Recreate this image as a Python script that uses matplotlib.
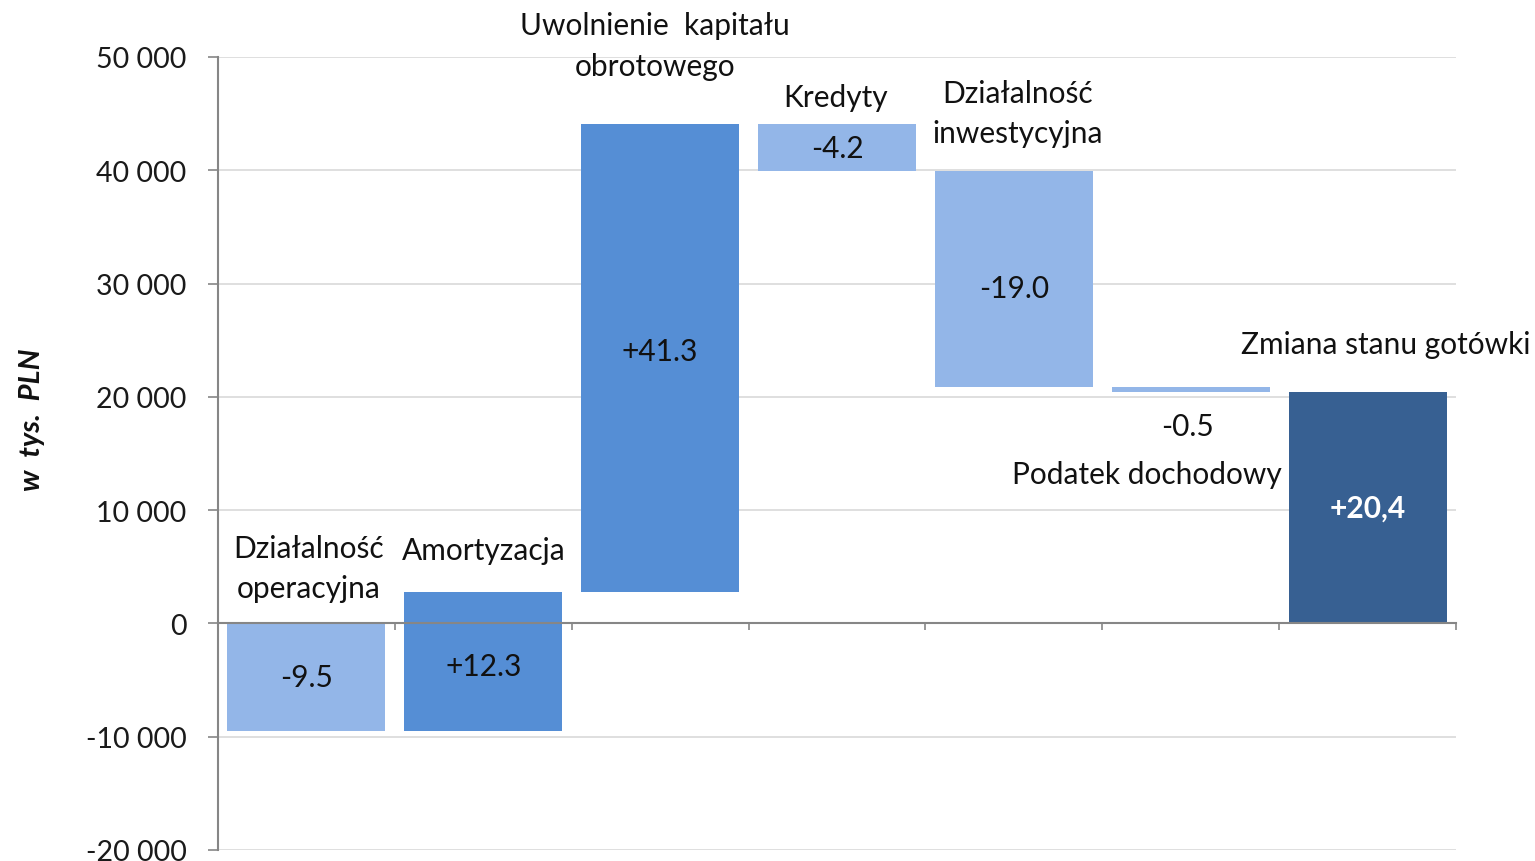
import matplotlib
matplotlib.use("Agg")
import matplotlib.pyplot as plt
from matplotlib.ticker import FuncFormatter, FixedLocator
import numpy as np

categories = ["Działalność\noperacyjna", "Amortyzacja", "Uwolnienie  kapitału\nobrotowego",
              "Kredyty", "Działalność\ninwestycyjna", "Podatek dochodowy", "Zmiana stanu gotówki"]
changes = [-9500, 12300, 41300, -4200, -19000, -500, 20400]
value_labels = ["-9.5", "+12.3", "+41.3", "-4.2", "-19.0", "-0.5", "+20,4"]
is_total = [False, False, False, False, False, False, True]
yticks = [-20000, -10000, 0, 10000, 20000, 30000, 40000, 50000]

LIGHT = "#93B6E8"
MID = "#558ED5"
DARK = "#376092"

plt.rcParams['font.family'] = ['Lato', 'DejaVu Sans']

fig = plt.figure(figsize=(15.35, 8.62), dpi=100)
ax = fig.add_axes([218/1535, 1-851/862, (1456-218)/1535, (851-58)/862])

# waterfall computation
bottoms, heights, colors = [], [], []
cum = 0
for ch, tot in zip(changes, is_total):
    if tot:
        bottoms.append(0); heights.append(ch); colors.append(DARK)
    else:
        bottoms.append(cum); heights.append(ch)
        colors.append(MID if ch > 0 else LIGHT)
        cum += ch
x = np.arange(len(changes))
ax.bar(x, heights, bottom=bottoms, width=0.893, color=colors, zorder=3)

ax.set_xlim(-0.5, len(changes) - 0.5)
ax.set_ylim(-20000, 50000)
ax.yaxis.set_major_locator(FixedLocator(yticks))
ax.yaxis.set_major_formatter(FuncFormatter(lambda v, p: f"{int(v):,}".replace(",", " ")))
ax.grid(axis='y', color='#D9D9D9', linewidth=1.2, zorder=0)
ax.tick_params(axis='y', length=7.5, width=1.2, color='#868686', pad=15, labelsize=20.5, labelcolor='#1a1a1a')

for s in ['top', 'right']:
    ax.spines[s].set_visible(False)
ax.spines['left'].set_color('#868686')
ax.spines['left'].set_linewidth(1.5)
ax.spines['bottom'].set_position(('data', 0))
ax.spines['bottom'].set_color('#868686')
ax.spines['bottom'].set_linewidth(1.5)
ax.spines['bottom'].set_zorder(4)
ax.set_xticks(np.arange(0.5, len(changes), 1.0))
ax.set_xticklabels([])
ax.tick_params(axis='x', length=5, width=1.2, color='#868686', direction='out')

fs = 21.5
# value label vertical nudges (layout, in data units)
val_dy = [0, -450, 600, 0, -800, 0, 0]
for i, (b, h, lab, tot) in enumerate(zip(bottoms, heights, value_labels, is_total)):
    mid = b + h / 2 + val_dy[i]
    if i == 5:
        continue
    if tot:
        ax.text(i, mid, lab, ha='center', va='center', fontsize=fs, color='white', fontweight='bold', zorder=5)
    else:
        ax.text(i, mid, lab, ha='center', va='center', fontsize=fs, color='#111111', zorder=5)

# category label positions (layout)
cat_pos = [(0.01, 4900), (1.0, 6450), (1.97, 51000), (2.99, 46500),
           (4.02, 45050), (4.75, 13150), (6.1, 24650)]
for i, (lab, (px, py)) in enumerate(zip(categories, cat_pos)):
    ax.text(px, py, lab, ha='center', va='center', fontsize=fs, color='#111111',
            linespacing=1.55, zorder=5, clip_on=False)
# small bar label below it
ax.text(4.98, 17400, value_labels[5], ha='center', va='center', fontsize=fs, color='#111111', zorder=5)

fig.text(32/1535, 1-420/862, "w  tys.  PLN", rotation=90, ha='center', va='center',
         fontsize=21, fontweight='bold', fontstyle='italic', color='#111111')

fig.savefig("out.png", dpi=100)
